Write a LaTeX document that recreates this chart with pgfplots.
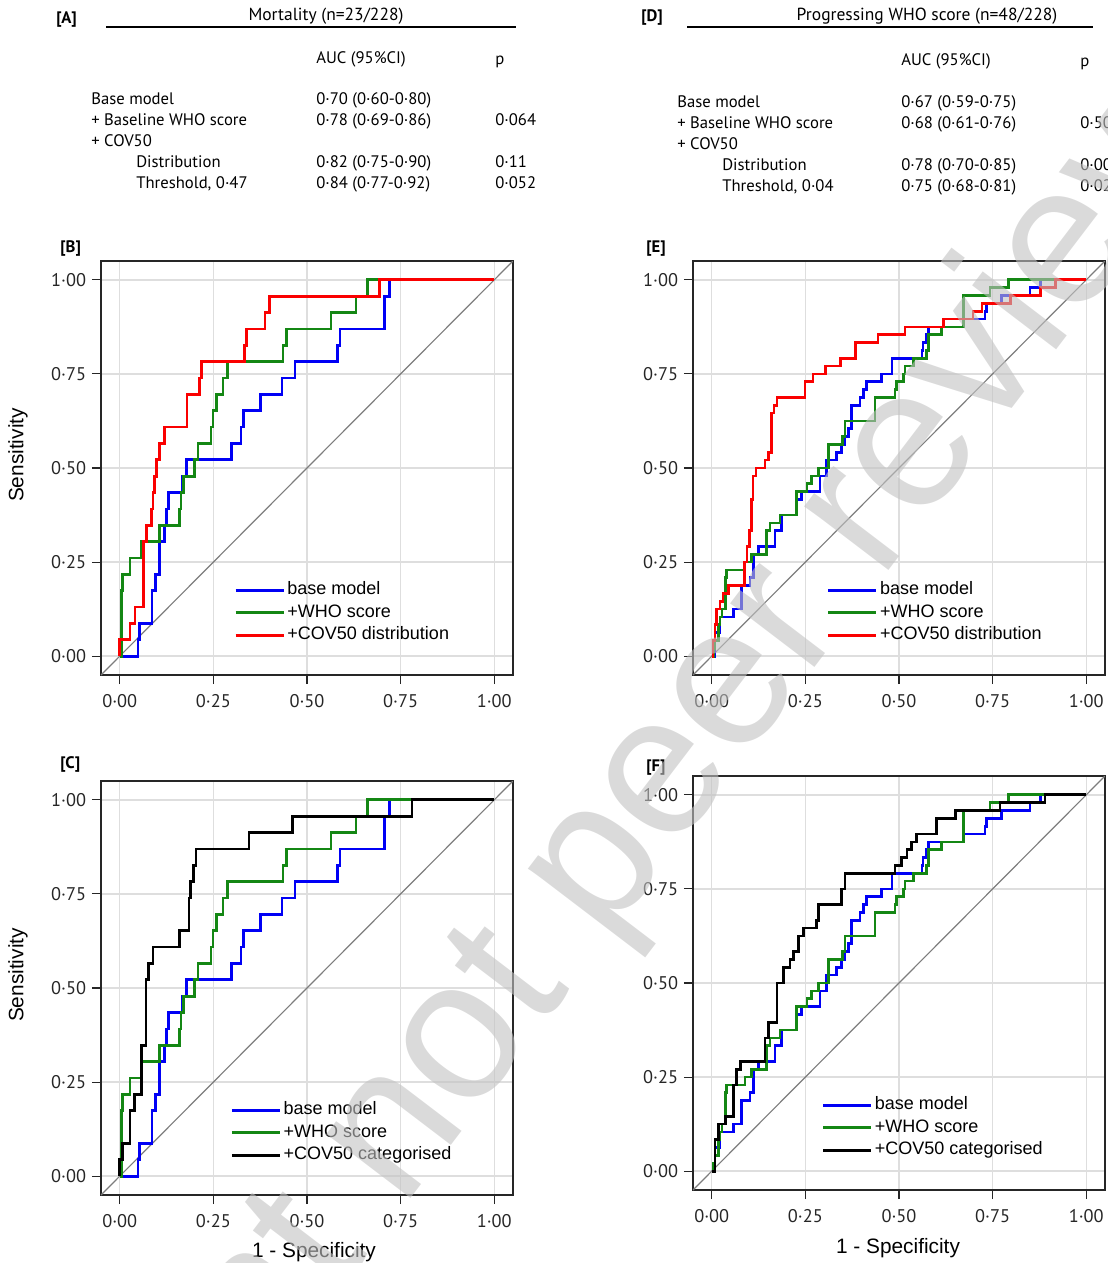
\documentclass[border=0pt]{standalone}
\usepackage{fontspec}
\setmainfont{Liberation Sans}
\newfontfamily\myr{PT Sans}
\usepackage{pgfplots}
\pgfplotsset{compat=1.18}
\usepackage{pgfplotstable}

\definecolor{rblue}{RGB}{0,0,245}
\definecolor{rgreen}{RGB}{20,135,20}
\definecolor{rred}{RGB}{250,0,0}
\definecolor{gridc}{RGB}{222,222,222}
\definecolor{diagc}{RGB}{125,125,125}
\definecolor{wm}{gray}{0.76}

% Mortality (k events out of 23)
\pgfplotstableread{
x k
0 0
0.049 1
0.053 2
0.086 4
0.095 5
0.107 7
0.120 8
0.124 9
0.130 10
0.166 11
0.178 12
0.298 13
0.324 14
0.331 15
0.375 16
0.433 17
0.468 18
0.582 19
0.588 20
0.707 22
0.720 23
1.000 23
}\mbase
\pgfplotstableread{
x k
0 0
0.004 4
0.008 5
0.027 6
0.058 7
0.107 8
0.160 9
0.164 10
0.171 11
0.200 12
0.209 13
0.244 14
0.249 15
0.258 16
0.276 17
0.287 18
0.436 19
0.446 20
0.564 21
0.631 22
0.662 23
1.000 23
}\mwho
\pgfplotstableread{
x k
0 0
0 1
0.027 2
0.041 3
0.064 7
0.071 8
0.084 9
0.089 10
0.093 11
0.098 12
0.107 13
0.120 14
0.180 16
0.213 17
0.218 18
0.333 19
0.338 20
0.388 21
0.400 22
0.693 23
1.000 23
}\mdist
\pgfplotstableread{
x k
0 0
0 1
0.007 2
0.027 4
0.040 5
0.058 8
0.070 12
0.076 13
0.089 14
0.160 15
0.185 17
0.189 18
0.197 19
0.204 20
0.345 21
0.462 22
0.780 23
1.000 23
}\mcat
% Progressing WHO score (k events out of 48)
\pgfplotstableread{
x k
0 0
0.009 3
0.022 5
0.058 6
0.080 9
0.102 10
0.111 13
0.124 14
0.169 16
0.187 18
0.227 20
0.240 21
0.289 23
0.307 25
0.334 26
0.347 27
0.356 28
0.365 29
0.374 32
0.396 33
0.405 34
0.414 35
0.454 36
0.481 38
0.561 39
0.564 40
0.574 41
0.578 42
0.672 43
0.730 44
0.734 45
0.774 46
0.850 47
0.877 48
1.000 48
}\pbase
\pgfplotstableread{
x k
0 0
0.004 1
0.009 2
0.018 4
0.022 5
0.027 6
0.036 10
0.040 11
0.089 12
0.107 13
0.147 16
0.156 17
0.182 18
0.227 21
0.254 22
0.267 23
0.285 24
0.311 27
0.350 28
0.356 30
0.436 33
0.489 34
0.494 35
0.512 36
0.516 37
0.539 38
0.574 39
0.578 41
0.614 42
0.672 46
0.743 47
0.792 48
1.000 48
}\pwho
\pgfplotstableread{
x k
0 0
0.003 2
0.009 4
0.013 6
0.022 7
0.030 8
0.044 9
0.088 12
0.094 14
0.100 16
0.106 20
0.110 23
0.118 24
0.142 25
0.151 26
0.160 31
0.166 32
0.174 33
0.249 35
0.270 36
0.303 37
0.343 38
0.383 40
0.444 41
0.516 42
0.618 43
0.698 44
0.722 45
0.797 46
0.877 47
0.917 48
1.000 48
}\pdist
\pgfplotstableread{
x k
0 0
0.009 4
0.018 6
0.036 7
0.058 11
0.067 13
0.076 14
0.142 17
0.151 19
0.174 24
0.191 26
0.209 27
0.218 28
0.231 30
0.245 31
0.280 32
0.285 34
0.347 36
0.356 38
0.489 39
0.507 40
0.521 41
0.534 42
0.547 43
0.601 45
0.650 46
0.770 47
0.890 48
1.000 48
}\pcat

\pgfplotsset{
  rocax/.style={
    scale only axis, width=247.2pt, height=248.4pt, anchor=north west,
    xmin=-0.05, xmax=1.05, ymin=-0.05, ymax=1.05,
    xtick={0,0.25,0.5,0.75,1}, ytick={0,0.25,0.5,0.75,1},
    xticklabels={0·00,0·25,0·50,0·75,1·00},
    yticklabels={0·00,0·25,0·50,0·75,1·00},
    tick align=outside, major tick length=5.4pt,
    xtick pos=lower, ytick pos=left,
    grid=major, major grid style={gridc, line width=0.9pt},
    axis line style={line width=0.7pt, black!85},
    tick style={line width=0.7pt, black!85},
    ticklabel style={font=\myr\fontsize{11}{12}\selectfont, text=black!85},
    x tick label style={yshift=-3pt},
    legend cell align=left,
    legend style={draw=none, fill=none, inner sep=0pt, row sep=0pt,
      anchor=north west,
      font=\fontsize{10.8}{12}\selectfont,
      nodes={inner sep=1.5pt, text height=8pt, text depth=2.5pt}},
    legend image code/.code={\draw[#1, line width=1.6pt] (0pt,0pt) -- (28.8pt,0pt);},
    every axis plot/.append style={line width=1.6pt, const plot, mark=none},
  },
  diag/.style={sharp plot, diagc, line width=0.7pt, forget plot},
}

\begin{document}
\begin{tikzpicture}[x=0.6pt,y=0.6pt]
\useasboundingbox (0,0) rectangle (1107,-1263);
\clip (0,0) rectangle (1107,-1263);

% ---------- Table A ----------
\begin{scope}[every node/.style={inner sep=0pt, font=\myr\fontsize{10}{12}\selectfont}]
\node[anchor=base west, font=\myr\bfseries\fontsize{10}{12}\selectfont] at (56,-23) {[A]};
\node[anchor=base, font=\myr\fontsize{10.5}{12}\selectfont] at (326,-20) {Mortality (n=23/228)};
\draw[line width=0.8pt] (106,-27) -- (516,-27);
\node[anchor=base west] at (316,-63) {AUC (95\%CI)};
\node[anchor=base west] at (495,-64) {p};
\node[anchor=base west] at (91,-104) {Base model};
\node[anchor=base west] at (91,-125) {+ Baseline WHO score};
\node[anchor=base west] at (91,-146) {+ COV50};
\node[anchor=base west] at (136,-167) {Distribution};
\node[anchor=base west] at (136,-188) {Threshold, 0·47};
\node[anchor=base west] at (316,-104) {0·70 (0·60-0·80)};
\node[anchor=base west] at (316,-125) {0·78 (0·69-0·86)};
\node[anchor=base west] at (316,-167) {0·82 (0·75-0·90)};
\node[anchor=base west] at (316,-188) {0·84 (0·77-0·92)};
\node[anchor=base west] at (495,-125) {0·064};
\node[anchor=base west] at (495,-167) {0·11};
\node[anchor=base west] at (495,-188) {0·052};
% ---------- Table D ----------
\node[anchor=base west, font=\myr\bfseries\fontsize{10}{12}\selectfont] at (641,-21) {[D]};
\node[anchor=base, font=\myr\fontsize{10.5}{12}\selectfont] at (927,-20) {Progressing WHO score (n=48/228)};
\draw[line width=0.8pt] (687,-27) -- (1093,-27);
\node[anchor=base west] at (901,-65) {AUC (95\%CI)};
\node[anchor=base west] at (1080,-66) {p};
\node[anchor=base west] at (677,-107) {Base model};
\node[anchor=base west] at (677,-128) {+ Baseline WHO score};
\node[anchor=base west] at (677,-149) {+ COV50};
\node[anchor=base west] at (722,-170) {Distribution};
\node[anchor=base west] at (722,-191) {Threshold, 0·04};
\node[anchor=base west] at (901,-107) {0·67 (0·59-0·75)};
\node[anchor=base west] at (901,-128) {0·68 (0·61-0·76)};
\node[anchor=base west] at (901,-170) {0·78 (0·70-0·85)};
\node[anchor=base west] at (901,-191) {0·75 (0·68-0·81)};
\node[anchor=base west] at (1080,-128) {0·50};
\node[anchor=base west] at (1080,-170) {0·002};
\node[anchor=base west] at (1080,-191) {0·021};
% panel labels
\node[anchor=base west, font=\myr\bfseries\fontsize{10}{12}\selectfont] at (60,-252) {[B]};
\node[anchor=base west, font=\myr\bfseries\fontsize{10}{12}\selectfont] at (60,-768) {[C]};
\node[anchor=base west, font=\myr\bfseries\fontsize{10}{12}\selectfont] at (646,-252) {[E]};
\node[anchor=base west, font=\myr\bfseries\fontsize{10}{12}\selectfont] at (646,-771) {[F]};
\end{scope}

% axis titles
\node[rotate=90, font=\fontsize{12.5}{14}\selectfont] at (18,-455) {Sensitivity};
\node[rotate=90, font=\fontsize{12.5}{14}\selectfont] at (18,-975) {Sensitivity};
\node[font=\fontsize{12.5}{14}\selectfont] at (314,-1252) {1 - Specificity};
\node[font=\fontsize{12.5}{14}\selectfont] at (898,-1248) {1 - Specificity};

% ---------- [B] ----------
\begin{axis}[rocax, at={(60.6pt,-156.6pt)}, legend style={at={(axis cs:0.305,0.206)}}]
\addplot[diag] coordinates {(-0.05,-0.05) (1.05,1.05)};
\addplot[rblue]  table[x=x, y expr=\thisrow{k}/23] {\mbase};
\addplot[rgreen] table[x=x, y expr=\thisrow{k}/23] {\mwho};
\addplot[rred]   table[x=x, y expr=\thisrow{k}/23] {\mdist};
\legend{base model, +WHO score, +COV50 distribution}
\end{axis}

% ---------- [C] ----------
\begin{axis}[rocax, at={(60.6pt,-468.6pt)}, legend style={at={(axis cs:0.295,0.206)}}]
\addplot[diag] coordinates {(-0.05,-0.05) (1.05,1.05)};
\addplot[rblue]  table[x=x, y expr=\thisrow{k}/23] {\mbase};
\addplot[rgreen] table[x=x, y expr=\thisrow{k}/23] {\mwho};
\addplot[black]  table[x=x, y expr=\thisrow{k}/23] {\mcat};
\legend{base model, +WHO score, +COV50 categorised}
\end{axis}

% ---------- [E] ----------
\begin{axis}[rocax, at={(415.8pt,-156.6pt)}, legend style={at={(axis cs:0.307,0.206)}}]
\addplot[diag] coordinates {(-0.05,-0.05) (1.05,1.05)};
\addplot[rblue]  table[x=x, y expr=\thisrow{k}/48] {\pbase};
\addplot[rgreen] table[x=x, y expr=\thisrow{k}/48] {\pwho};
\addplot[rred]   table[x=x, y expr=\thisrow{k}/48] {\pdist};
\legend{base model, +WHO score, +COV50 distribution}
\end{axis}

% ---------- [F] ----------
\begin{axis}[rocax, at={(415.8pt,-465.6pt)}, legend style={at={(axis cs:0.293,0.206)}}]
\addplot[diag] coordinates {(-0.05,-0.05) (1.05,1.05)};
\addplot[rblue]  table[x=x, y expr=\thisrow{k}/48] {\pbase};
\addplot[rgreen] table[x=x, y expr=\thisrow{k}/48] {\pwho};
\addplot[black]  table[x=x, y expr=\thisrow{k}/48] {\pcat};
\legend{base model, +WHO score, +COV50 categorised}
\end{axis}

% watermark
\node[rotate=52.7, font=\fontsize{120}{120}\selectfont, text=wm, text opacity=0.6, inner sep=0pt] at (614,-846) {Preprint not peer reviewed};
\end{tikzpicture}
\end{document}
